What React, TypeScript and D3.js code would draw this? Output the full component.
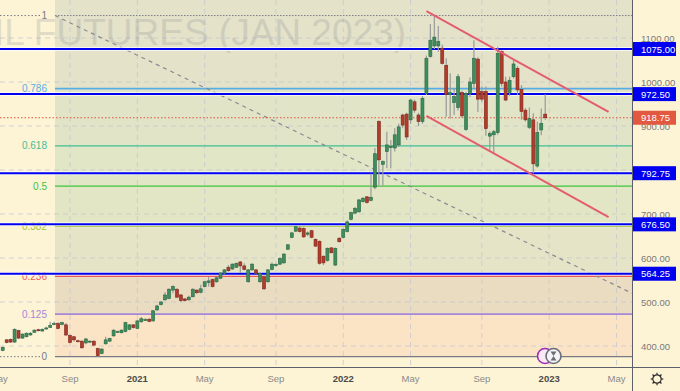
import React from 'react';
import * as d3 from 'd3';

const W = 680;
const H = 391;
const PLOT_R = 632;
const PLOT_B = 367;

// Weekly candles, May 2020 – Dec 2022 (index 0 = week of 4 May 2020)
const opens = [390,414,415,409,435,418,421,425,431,437,434,439,442,450,451,449,448,424,421,412,411,407,409,411,394,383,405,411,423,432,430,433,438,448,440,455,459,461,457,482,494,505,508,527,529,516,507,505,512,527,522,535,544,551,546,554,565,579,575,579,591,582,546,573,573,546,557,546,574,583,586,589,620,647,661,668,667,654,662,642,638,604,594,623,584,645,647,660,688,702,705,728,739,731,761,910,813,842,851,850,857,925,927,914,955,925,910,974,1058,1082,1082,1077,1038,971,953,942,976,892,974,997,1052,978,978,877,880,885,1069,1000,976,1012,1031,983,936,897,914,809,891,927];
const highs = [399,416,417,440,437,429,431,432,438,439,440,444,455,455,454,455,452,426,423,414,413,418,413,413,396,395,421,419,438,435,438,455,450,450,459,466,463,463,482,494,502,523,531,538,531,518,509,514,531,529,539,548,557,553,557,568,575,584,588,590,593,588,575,588,575,567,560,575,590,588,601,611,632,659,672,672,670,660,664,645,640,606,624,625,624,647,667,686,705,716,734,738,741,792,850,913,822,887,868,895,905,928,930,962,960,930,968,1060,1132,1152,1127,1085,1054,1020,985,1018,980,978,1010,1095,1056,990,990,888,891,1080,1072,1012,1012,1050,1036,993,941,942,929,910,940,972];
const lows = [388,406,407,407,416,416,420,424,430,433,433,437,441,447,438,447,423,406,410,408,394,404,407,400,376,381,403,409,421,430,429,431,436,440,438,453,457,454,455,480,492,503,506,520,509,500,501,503,510,519,520,533,535,533,544,552,563,569,573,577,566,572,544,571,563,544,527,544,572,580,584,587,618,645,659,658,646,650,645,625,585,584,592,610,582,635,645,658,686,700,703,726,724,729,756,765,765,804,804,842,852,895,868,905,930,900,905,970,1055,1075,1069,1040,921,917,925,935,918,889,966,986,932,955,878,845,838,880,990,956,968,1008,970,914,910,893,792,805,879,914];
const closes = [397,408,409,438,418,427,429,429,436,435,438,441,447,451,440,453,425,408,414,410,396,416,411,402,378,393,414,417,436,433,436,453,448,442,457,462,460,456,480,491,500,516,529,535,511,503,503,511,529,521,530,546,548,535,555,566,573,571,586,588,582,574,573,586,565,565,530,573,586,585,599,609,630,657,671,660,648,657,647,627,588,589,622,612,622,637,665,682,703,713,732,736,726,738,837,823,819,857,854,880,898,902,875,959,936,910,963,1054,1095,1102,1092,1042,971,976,967,1012,923,974,1000,1054,961,961,894,883,887,1065,997,959,1004,1041,982,933,914,917,814,885,906,918.75];

const priceTicks = [400, 500, 600, 700, 800, 900, 1000, 1100];
const timeTickIndex = [-1, 17, 34, 51, 69, 86, 103, 121, 138, 155];
const timeTickLabel = ['May', 'Sep', '2021', 'May', 'Sep', '2022', 'May', 'Sep', '2023', 'May'];

const fibLevels = [1, 0.786, 0.618, 0.5, 0.382, 0.236, 0.125, 0];
const fibLabels = ['1', '0.786', '0.618', '0.5', '0.382', '0.236', '0.125', '0'];
const fibColors = ['#787b86', '#5aaee6', '#3fbf95', '#3cc43c', '#a2c83a', '#ec5b5b', '#a587d8', '#787b86'];
const fibBandFills = ['#e4e2c9', '#e1e4c6', '#e0e6c6', '#e2e6c4', '#e5e4c6', '#e9dcc1', '#fbe4c6'];
const fibHigh = 1151;
const fibLow = 375.75;
const fibStartIndex = 13.2;

const levelPrices = [1075, 972.5, 792.75, 676.5, 564.25];
const lastPrice = 918.75;

const channelIndex = [107, 153];
const channelUpper = [1161, 932];
const channelLower = [923, 693];
const diagIndex = [13.2, 158.9];
const diagPrice = [1151, 520];

const FONT = 'Liberation Sans, Arial, sans-serif';

export default function App() {
  const x = d3.scaleLinear().domain([0, 155]).range([2.7, 616.5]);
  const y = d3.scaleLinear().domain([400, 1100]).range([346, 38]);
  const fibPrice = (l: number) => fibLow + (fibHigh - fibLow) * l;
  const fibX0 = x(fibStartIndex);
  const line = d3.line<[number, number]>().x(d => x(d[0])).y(d => y(d[1]));

  const bandTops = [0, ...fibLevels.slice(1, 7).map(l => y(fibPrice(l)))];
  const bandBottoms = fibLevels.slice(1).map(l => y(fibPrice(l)));

  const bodyW = 3;
  const boxPrices = [...levelPrices, lastPrice];
  const visibleTicks = priceTicks.filter(p => boxPrices.every(b => Math.abs(y(b) - y(p)) > 7));

  return (
    <svg width={W} height={H} style={{ position: 'absolute', left: 0, top: 0, background: '#fdf3d5' }} fontFamily={FONT}>
      <defs>
        <clipPath id="plot"><rect x={0} y={0} width={PLOT_R} height={PLOT_B} /></clipPath>
      </defs>
      <rect x={0} y={0} width={W} height={H} fill="#fdf3d5" />
      <g clipPath="url(#plot)">
        {bandTops.map((t, i) => (
          <rect key={'b' + i} x={fibX0} y={t} width={PLOT_R - fibX0} height={bandBottoms[i] - t} fill={fibBandFills[i]} />
        ))}
        {priceTicks.map(p => (
          <line key={'gy' + p} x1={0} x2={PLOT_R} y1={y(p)} y2={y(p)} stroke="#c4c7d2" strokeWidth={1} strokeDasharray="5,4" opacity={0.75} />
        ))}
        {timeTickIndex.map(t => (
          <line key={'gx' + t} x1={x(t)} x2={x(t)} y1={0} y2={PLOT_B} stroke="#c4c7d2" strokeWidth={1} strokeDasharray="5,4" opacity={0.75} />
        ))}
        <text x={406} y={45} textAnchor="end" fontSize={37} fill="#787b86" opacity={0.2} fontFamily={FONT}>OIL FUTURES (JAN 2023)</text>

        {fibLevels.map((l, i) => {
          const yy = y(fibPrice(l));
          const wide = l === 0.125 || l === 0.236 || l === 0.786;
          return (
            <g key={'f' + i}>
              {(l === 1 || l === 0) && (
                <line x1={0} x2={40} y1={yy} y2={yy} stroke="#787b86" strokeWidth={1} strokeDasharray="1.5,2" />
              )}
              {l === 1 ? (
                <line x1={fibX0} x2={PLOT_R} y1={yy} y2={yy} stroke="#787b86" strokeWidth={1} strokeDasharray="1.5,1.5" />
              ) : (
                <line x1={fibX0} x2={PLOT_R} y1={yy} y2={yy} stroke={fibColors[i]} strokeWidth={wide ? 1.8 : 1.2} />
              )}
              <text x={47} y={yy + 3.5} textAnchor="end" fontSize={10} fill={fibColors[i]}>{fibLabels[i]}</text>
            </g>
          );
        })}

        <path d={line([[diagIndex[0], diagPrice[0]], [diagIndex[1], diagPrice[1]]]) || ''} stroke="#8a8b90" strokeWidth={1.2} strokeDasharray="4,4" fill="none" />

        {levelPrices.map(p => (
          <g key={'h' + p}>
            <line x1={0} x2={PLOT_R} y1={y(p)} y2={y(p)} stroke="#ffffff" strokeWidth={4} opacity={0.7} />
            <line x1={0} x2={PLOT_R} y1={y(p)} y2={y(p)} stroke="#0000f0" strokeWidth={2} />
          </g>
        ))}
        <line x1={0} x2={PLOT_R} y1={y(lastPrice)} y2={y(lastPrice)} stroke="#e0503c" strokeWidth={1} strokeDasharray="1.5,2" />

        {opens.map((o, i) => {
          const c = closes[i];
          const up = c >= o;
          const cx = x(i);
          const top = y(Math.max(o, c));
          const bot = y(Math.min(o, c));
          return (
            <g key={'c' + i}>
              <line x1={cx} x2={cx} y1={y(highs[i])} y2={y(lows[i])} stroke="#9a9a9a" strokeWidth={1.2} />
              <rect x={cx - bodyW / 2} y={top} width={bodyW} height={Math.max(1, bot - top)}
                fill={up ? '#3f8d5e' : '#b23c2c'} stroke={up ? '#2a6843' : '#7d271c'} strokeWidth={0.6} />
            </g>
          );
        })}

        <path d={line([[channelIndex[0], channelUpper[0]], [channelIndex[1], channelUpper[1]]]) || ''} stroke="#e35d6e" strokeWidth={2} fill="none" />
        <path d={line([[channelIndex[0], channelLower[0]], [channelIndex[1], channelLower[1]]]) || ''} stroke="#e35d6e" strokeWidth={2} fill="none" />

        <circle cx={545} cy={356} r={7.5} fill="#fbe9f6" stroke="#a12bb8" strokeWidth={1.6} />
        <circle cx={553.5} cy={356} r={7.5} fill="#f4f4f6" stroke="#6b6e78" strokeWidth={1.6} />
        <path d="M550.5,351.5 h6 l-3,4.5 l3,4.5 h-6 l3,-4.5 z" fill="#6b6e78" />
      </g>

      {/* axes */}
      <line x1={0} x2={W} y1={PLOT_B + 0.5} y2={PLOT_B + 0.5} stroke="#5d606b" strokeWidth={1} />
      <line x1={PLOT_R + 0.5} x2={PLOT_R + 0.5} y1={0} y2={H} stroke="#5d606b" strokeWidth={1} />

      {visibleTicks.map(p => (
        <text key={'pt' + p} x={641} y={y(p) + 3.5} fontSize={9.5} fill="#7a7a7a">{d3.format('.2f')(p)}</text>
      ))}
      {levelPrices.map(p => (
        <g key={'pb' + p}>
          <rect x={633} y={y(p) - 7} width={43} height={14} fill="#0000f0" />
          <text x={641} y={y(p) + 3.5} fontSize={9.5} fill="#ffffff">{d3.format('.2f')(p)}</text>
        </g>
      ))}
      <rect x={633} y={y(lastPrice) - 7} width={43} height={14} fill="#e25840" />
      <text x={641} y={y(lastPrice) + 3.5} fontSize={9.5} fill="#ffffff">{d3.format('.2f')(lastPrice)}</text>

      {timeTickIndex.map((t, i) => {
        const isYear = /^\d{4}$/.test(timeTickLabel[i]);
        return (
          <text key={'tt' + t} x={x(t)} y={382} textAnchor="middle" fontSize={9.5}
            fill={isYear ? '#4a4a4a' : '#8a8a8a'} fontWeight={isYear ? 600 : 400}>{timeTickLabel[i]}</text>
        );
      })}

      <g transform="translate(657,379)" stroke="#2a2a2a" strokeWidth={1.2} fill="none">
        <circle r={4.2} />
        {d3.range(8).map(k => {
          const a = (k * Math.PI) / 4;
          return <line key={'g' + k} x1={Math.cos(a) * 4.2} y1={Math.sin(a) * 4.2} x2={Math.cos(a) * 6.3} y2={Math.sin(a) * 6.3} />;
        })}
      </g>
    </svg>
  );
}
